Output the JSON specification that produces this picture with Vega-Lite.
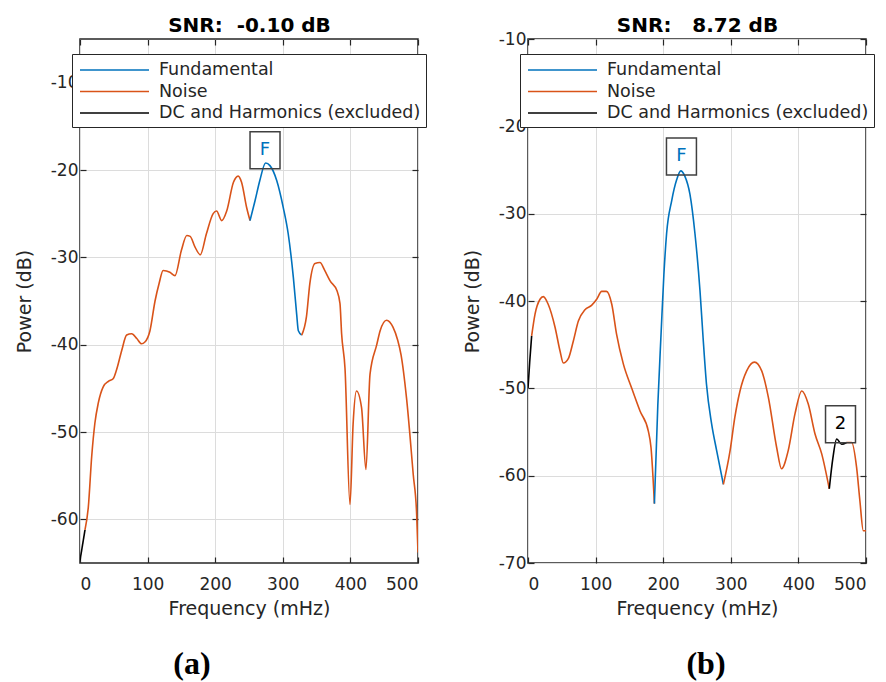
{
  "$schema": "https://vega.github.io/schema/vega-lite/v6.json",
  "padding": {"left": 14, "top": 14, "right": 0, "bottom": 0},
  "background": "white",
  "spacing": 110,
  "bounds": "flush",
  "resolve": {"scale": {"color": "independent"}, "legend": {"color": "independent"}},
  "config": {
    "view": {"stroke": "#262626", "strokeWidth": 1.5},
    "font": "DejaVu Sans",
    "axis": {
      "labelFont": "DejaVu Sans", "labelFontSize": 17, "labelColor": "#262626",
      "titleFont": "DejaVu Sans", "titleFontSize": 19, "titleFontWeight": "normal", "titleColor": "#262626",
      "domain": false, "tickColor": "#262626", "tickSize": -6, "tickWidth": 1.2,
      "grid": true, "gridColor": "#dcdcdc", "gridWidth": 1
    }
  },
  "datasets": {
    "a_curve": [
      {"f": 0, "p": -64.7, "series": "DC and Harmonics (excluded)", "seg": "d1"},
      {"f": 7.4, "p": -61.2, "series": "DC and Harmonics (excluded)", "seg": "d1"},
      {"f": 7.4, "p": -61.2, "series": "Noise", "seg": "n1"},
      {"f": 12.3, "p": -58.6, "series": "Noise", "seg": "n1"},
      {"f": 17.3, "p": -52.8, "series": "Noise", "seg": "n1"},
      {"f": 22, "p": -49.0, "series": "Noise", "seg": "n1"},
      {"f": 27, "p": -46.7, "series": "Noise", "seg": "n1"},
      {"f": 34.5, "p": -44.8, "series": "Noise", "seg": "n1"},
      {"f": 42, "p": -44.2, "series": "Noise", "seg": "n1"},
      {"f": 49, "p": -43.9, "series": "Noise", "seg": "n1"},
      {"f": 54, "p": -42.9, "series": "Noise", "seg": "n1"},
      {"f": 61.6, "p": -40.7, "series": "Noise", "seg": "n1"},
      {"f": 69, "p": -38.9, "series": "Noise", "seg": "n1"},
      {"f": 76.5, "p": -38.75, "series": "Noise", "seg": "n1"},
      {"f": 84, "p": -39.3, "series": "Noise", "seg": "n1"},
      {"f": 91, "p": -39.9, "series": "Noise", "seg": "n1"},
      {"f": 96, "p": -39.7, "series": "Noise", "seg": "n1"},
      {"f": 103.5, "p": -38.4, "series": "Noise", "seg": "n1"},
      {"f": 111, "p": -35.0, "series": "Noise", "seg": "n1"},
      {"f": 117, "p": -33.0, "series": "Noise", "seg": "n1"},
      {"f": 123, "p": -31.5, "series": "Noise", "seg": "n1"},
      {"f": 133, "p": -31.7, "series": "Noise", "seg": "n1"},
      {"f": 140.5, "p": -32.1, "series": "Noise", "seg": "n1"},
      {"f": 150, "p": -29.2, "series": "Noise", "seg": "n1"},
      {"f": 158, "p": -27.5, "series": "Noise", "seg": "n1"},
      {"f": 163, "p": -27.6, "series": "Noise", "seg": "n1"},
      {"f": 170, "p": -28.8, "series": "Noise", "seg": "n1"},
      {"f": 178, "p": -29.7, "series": "Noise", "seg": "n1"},
      {"f": 187, "p": -27.3, "series": "Noise", "seg": "n1"},
      {"f": 197, "p": -25.0, "series": "Noise", "seg": "n1"},
      {"f": 202, "p": -24.7, "series": "Noise", "seg": "n1"},
      {"f": 209.6, "p": -25.8, "series": "Noise", "seg": "n1"},
      {"f": 217, "p": -24.7, "series": "Noise", "seg": "n1"},
      {"f": 227, "p": -21.4, "series": "Noise", "seg": "n1"},
      {"f": 234, "p": -20.7, "series": "Noise", "seg": "n1"},
      {"f": 239, "p": -21.4, "series": "Noise", "seg": "n1"},
      {"f": 246.5, "p": -24.3, "series": "Noise", "seg": "n1"},
      {"f": 251.5, "p": -25.8, "series": "Noise", "seg": "n1"},
      {"f": 251.5, "p": -25.8, "series": "Fundamental", "seg": "f1"},
      {"f": 259, "p": -23.5, "series": "Fundamental", "seg": "f1"},
      {"f": 266, "p": -21.2, "series": "Fundamental", "seg": "f1"},
      {"f": 274.6, "p": -19.2, "series": "Fundamental", "seg": "f1"},
      {"f": 281, "p": -19.5, "series": "Fundamental", "seg": "f1"},
      {"f": 291, "p": -21.2, "series": "Fundamental", "seg": "f1"},
      {"f": 300.7, "p": -24.3, "series": "Fundamental", "seg": "f1"},
      {"f": 308, "p": -27.3, "series": "Fundamental", "seg": "f1"},
      {"f": 315.6, "p": -32.3, "series": "Fundamental", "seg": "f1"},
      {"f": 320.5, "p": -36.5, "series": "Fundamental", "seg": "f1"},
      {"f": 323, "p": -38.4, "series": "Fundamental", "seg": "f1"},
      {"f": 328, "p": -38.9, "series": "Fundamental", "seg": "f1"},
      {"f": 328, "p": -38.9, "series": "Noise", "seg": "n2"},
      {"f": 335, "p": -36.8, "series": "Noise", "seg": "n2"},
      {"f": 340, "p": -33.0, "series": "Noise", "seg": "n2"},
      {"f": 347.6, "p": -30.7, "series": "Noise", "seg": "n2"},
      {"f": 355, "p": -30.6, "series": "Noise", "seg": "n2"},
      {"f": 362, "p": -31.5, "series": "Noise", "seg": "n2"},
      {"f": 370, "p": -32.7, "series": "Noise", "seg": "n2"},
      {"f": 380, "p": -33.8, "series": "Noise", "seg": "n2"},
      {"f": 384.6, "p": -35.3, "series": "Noise", "seg": "n2"},
      {"f": 387, "p": -38.75, "series": "Noise", "seg": "n2"},
      {"f": 392, "p": -42.7, "series": "Noise", "seg": "n2"},
      {"f": 399.4, "p": -58.3, "series": "Noise", "seg": "n2"},
      {"f": 404, "p": -49.1, "series": "Noise", "seg": "n2"},
      {"f": 409, "p": -45.3, "series": "Noise", "seg": "n2"},
      {"f": 416.5, "p": -47.2, "series": "Noise", "seg": "n2"},
      {"f": 423, "p": -54.3, "series": "Noise", "seg": "n2"},
      {"f": 429, "p": -43.4, "series": "Noise", "seg": "n2"},
      {"f": 439, "p": -40.0, "series": "Noise", "seg": "n2"},
      {"f": 444, "p": -38.4, "series": "Noise", "seg": "n2"},
      {"f": 453.6, "p": -37.2, "series": "Noise", "seg": "n2"},
      {"f": 463, "p": -38.0, "series": "Noise", "seg": "n2"},
      {"f": 470, "p": -39.5, "series": "Noise", "seg": "n2"},
      {"f": 475, "p": -41.2, "series": "Noise", "seg": "n2"},
      {"f": 483, "p": -46.1, "series": "Noise", "seg": "n2"},
      {"f": 493, "p": -54.9, "series": "Noise", "seg": "n2"},
      {"f": 498, "p": -59.4, "series": "Noise", "seg": "n2"},
      {"f": 500, "p": -63.8, "series": "Noise", "seg": "n2"}
    ],
    "a_ann": [
      {"label": "F", "f": 273.7, "p": -17.74, "series": "Fundamental"}
    ],
    "b_curve": [
      {"f": 0, "p": -50.0, "series": "DC and Harmonics (excluded)", "seg": "d1"},
      {"f": 2.5, "p": -47.0, "series": "DC and Harmonics (excluded)", "seg": "d1"},
      {"f": 5.4, "p": -44.0, "series": "DC and Harmonics (excluded)", "seg": "d1"},
      {"f": 5.4, "p": -44.0, "series": "Noise", "seg": "n1"},
      {"f": 10.4, "p": -41.5, "series": "Noise", "seg": "n1"},
      {"f": 17.8, "p": -39.8, "series": "Noise", "seg": "n1"},
      {"f": 22.6, "p": -39.5, "series": "Noise", "seg": "n1"},
      {"f": 30, "p": -40.4, "series": "Noise", "seg": "n1"},
      {"f": 40, "p": -43.0, "series": "Noise", "seg": "n1"},
      {"f": 47.3, "p": -45.7, "series": "Noise", "seg": "n1"},
      {"f": 52.3, "p": -47.1, "series": "Noise", "seg": "n1"},
      {"f": 59.6, "p": -46.6, "series": "Noise", "seg": "n1"},
      {"f": 67, "p": -44.6, "series": "Noise", "seg": "n1"},
      {"f": 74.5, "p": -42.3, "series": "Noise", "seg": "n1"},
      {"f": 84.3, "p": -41.0, "series": "Noise", "seg": "n1"},
      {"f": 94, "p": -40.5, "series": "Noise", "seg": "n1"},
      {"f": 101.6, "p": -39.8, "series": "Noise", "seg": "n1"},
      {"f": 109, "p": -38.9, "series": "Noise", "seg": "n1"},
      {"f": 116, "p": -38.9, "series": "Noise", "seg": "n1"},
      {"f": 124, "p": -40.4, "series": "Noise", "seg": "n1"},
      {"f": 131, "p": -43.8, "series": "Noise", "seg": "n1"},
      {"f": 141, "p": -47.2, "series": "Noise", "seg": "n1"},
      {"f": 153, "p": -49.9, "series": "Noise", "seg": "n1"},
      {"f": 165.7, "p": -52.6, "series": "Noise", "seg": "n1"},
      {"f": 178, "p": -54.9, "series": "Noise", "seg": "n1"},
      {"f": 182, "p": -56.8, "series": "Noise", "seg": "n1"},
      {"f": 187, "p": -63.2, "series": "Noise", "seg": "n1"},
      {"f": 187, "p": -63.2, "series": "Fundamental", "seg": "f1"},
      {"f": 192, "p": -52.0, "series": "Fundamental", "seg": "f1"},
      {"f": 197, "p": -43.5, "series": "Fundamental", "seg": "f1"},
      {"f": 201, "p": -37.0, "series": "Fundamental", "seg": "f1"},
      {"f": 205, "p": -32.3, "series": "Fundamental", "seg": "f1"},
      {"f": 212.6, "p": -28.5, "series": "Fundamental", "seg": "f1"},
      {"f": 220, "p": -26.1, "series": "Fundamental", "seg": "f1"},
      {"f": 226, "p": -25.1, "series": "Fundamental", "seg": "f1"},
      {"f": 232, "p": -25.7, "series": "Fundamental", "seg": "f1"},
      {"f": 239.6, "p": -27.8, "series": "Fundamental", "seg": "f1"},
      {"f": 247, "p": -32.3, "series": "Fundamental", "seg": "f1"},
      {"f": 254.4, "p": -38.8, "series": "Fundamental", "seg": "f1"},
      {"f": 259, "p": -44.2, "series": "Fundamental", "seg": "f1"},
      {"f": 264, "p": -49.5, "series": "Fundamental", "seg": "f1"},
      {"f": 271.7, "p": -54.1, "series": "Fundamental", "seg": "f1"},
      {"f": 279, "p": -57.1, "series": "Fundamental", "seg": "f1"},
      {"f": 289, "p": -61.0, "series": "Fundamental", "seg": "f1"},
      {"f": 289, "p": -61.0, "series": "Noise", "seg": "n2"},
      {"f": 299, "p": -57.1, "series": "Noise", "seg": "n2"},
      {"f": 306, "p": -53.3, "series": "Noise", "seg": "n2"},
      {"f": 313.6, "p": -50.3, "series": "Noise", "seg": "n2"},
      {"f": 323.5, "p": -48.0, "series": "Noise", "seg": "n2"},
      {"f": 335, "p": -47.0, "series": "Noise", "seg": "n2"},
      {"f": 345.7, "p": -48.0, "series": "Noise", "seg": "n2"},
      {"f": 355.5, "p": -51.0, "series": "Noise", "seg": "n2"},
      {"f": 367.9, "p": -56.8, "series": "Noise", "seg": "n2"},
      {"f": 375, "p": -59.2, "series": "Noise", "seg": "n2"},
      {"f": 385, "p": -57.1, "series": "Noise", "seg": "n2"},
      {"f": 395, "p": -52.9, "series": "Noise", "seg": "n2"},
      {"f": 405, "p": -50.3, "series": "Noise", "seg": "n2"},
      {"f": 414.6, "p": -51.8, "series": "Noise", "seg": "n2"},
      {"f": 424.5, "p": -55.2, "series": "Noise", "seg": "n2"},
      {"f": 434.5, "p": -57.5, "series": "Noise", "seg": "n2"},
      {"f": 445.7, "p": -61.5, "series": "Noise", "seg": "n2"},
      {"f": 445.7, "p": -61.5, "series": "DC and Harmonics (excluded)", "seg": "d2"},
      {"f": 451, "p": -58.0, "series": "DC and Harmonics (excluded)", "seg": "d2"},
      {"f": 456.6, "p": -55.8, "series": "DC and Harmonics (excluded)", "seg": "d2"},
      {"f": 464, "p": -56.4, "series": "DC and Harmonics (excluded)", "seg": "d2"},
      {"f": 471.4, "p": -56.2, "series": "DC and Harmonics (excluded)", "seg": "d2"},
      {"f": 471.4, "p": -56.2, "series": "Noise", "seg": "n3"},
      {"f": 478.8, "p": -56.2, "series": "Noise", "seg": "n3"},
      {"f": 486, "p": -59.0, "series": "Noise", "seg": "n3"},
      {"f": 491, "p": -62.9, "series": "Noise", "seg": "n3"},
      {"f": 496, "p": -66.3, "series": "Noise", "seg": "n3"},
      {"f": 500, "p": -66.3, "series": "Noise", "seg": "n3"}
    ],
    "b_ann": [
      {"label": "F", "f": 227, "p": -23.44, "series": "Fundamental"},
      {"label": "2", "f": 462.3, "p": -54.1, "series": "DC and Harmonics (excluded)"}
    ]
  },
  "hconcat": [
    {
      "width": 338, "height": 524,
      "title": {"text": "(a)", "orient": "bottom", "frame": "group", "anchor": "middle", "dx": -57, "offset": 31, "font": "Liberation Serif", "fontSize": 32, "fontWeight": "bold", "color": "black"},
      "resolve": {"axis": {"x": "independent", "y": "independent"}},
      "layer": [
        {
          "data": {"name": "a_curve"},
          "mark": {"type": "line", "strokeWidth": 1.6, "interpolate": "monotone", "clip": true},
          "encoding": {
            "x": {"field": "f", "type": "quantitative", "scale": {"domain": [0, 500], "nice": false, "zero": false},
                  "axis": {"orient": "bottom", "values": [0, 100, 200, 300, 400, 500], "title": "Frequency (mHz)", "labelPadding": 19, "titlePadding": 7}},
            "y": {"field": "p", "type": "quantitative", "scale": {"domain": [-65, -5], "nice": false, "zero": false},
                  "axis": {"orient": "left", "values": [-60, -50, -40, -30, -20, -10], "title": "Power (dB)", "labelExpr": "datum.value + ''", "labelPadding": 8, "titlePadding": 16}},
            "color": {"field": "series", "type": "nominal",
                      "scale": {"domain": ["Fundamental", "Noise", "DC and Harmonics (excluded)"], "range": ["#0072BD", "#D95319", "#000000"]},
                      "legend": {"orient": "none", "legendX": -8, "legendY": 15, "title": null,
                                 "symbolType": "M-0.8,0H6.1", "symbolSize": 400, "symbolStrokeWidth": 1.5,
                                 "labelFontSize": 17.5, "labelFont": "DejaVu Sans", "labelColor": "#262626", "labelLimit": 0,
                                 "strokeColor": "#262626", "fillColor": "white",
                                 "padding": 5, "labelOffset": 60, "rowPadding": 1.5, "direction": "vertical"}},
            "detail": {"field": "seg"}
          }
        },
        {
          "data": {"name": "a_ann"},
          "mark": {"type": "point", "shape": "M-0.81,-1H0.81V1H-0.81Z", "filled": false, "stroke": "#404040", "strokeWidth": 1.5, "size": 1369, "opacity": 1},
          "encoding": {
            "x": {"field": "f", "type": "quantitative", "scale": {"domain": [0, 500], "nice": false, "zero": false},
                  "axis": {"orient": "top", "values": [0, 100, 200, 300, 400, 500], "labels": false, "grid": false, "title": "SNR:\u00a0 -0.10 dB", "titleFontWeight": "bold", "titleFontSize": 20, "titleColor": "black", "titlePadding": 3}},
            "y": {"field": "p", "type": "quantitative", "scale": {"domain": [-65, -5], "nice": false, "zero": false},
                  "axis": {"orient": "right", "values": [-60, -50, -40, -30, -20, -10], "labels": false, "grid": false, "title": null}}
          }
        },
        {
          "data": {"name": "a_ann"},
          "mark": {"type": "text", "fontSize": 18, "font": "DejaVu Sans", "align": "center", "baseline": "middle"},
          "encoding": {
            "x": {"field": "f", "type": "quantitative", "axis": null},
            "y": {"field": "p", "type": "quantitative", "axis": null},
            "text": {"field": "label"},
            "color": {"field": "series", "type": "nominal"}
          }
        }
      ]
    },
    {
      "width": 338, "height": 524,
      "title": {"text": "(b)", "orient": "bottom", "frame": "group", "anchor": "middle", "dx": 9, "offset": 31, "font": "Liberation Serif", "fontSize": 32, "fontWeight": "bold", "color": "black"},
      "resolve": {"axis": {"x": "independent", "y": "independent"}},
      "layer": [
        {
          "data": {"name": "b_curve"},
          "mark": {"type": "line", "strokeWidth": 1.6, "interpolate": "monotone", "clip": true},
          "encoding": {
            "x": {"field": "f", "type": "quantitative", "scale": {"domain": [0, 500], "nice": false, "zero": false},
                  "axis": {"orient": "bottom", "values": [0, 100, 200, 300, 400, 500], "title": "Frequency (mHz)", "labelPadding": 19, "titlePadding": 7}},
            "y": {"field": "p", "type": "quantitative", "scale": {"domain": [-70, -10], "nice": false, "zero": false},
                  "axis": {"orient": "left", "values": [-70, -60, -50, -40, -30, -20, -10], "title": "Power (dB)", "labelExpr": "datum.value + ''", "labelPadding": 8, "titlePadding": 16}},
            "color": {"field": "series", "type": "nominal",
                      "scale": {"domain": ["Fundamental", "Noise", "DC and Harmonics (excluded)"], "range": ["#0072BD", "#D95319", "#000000"]},
                      "legend": {"orient": "none", "legendX": -8, "legendY": 15, "title": null,
                                 "symbolType": "M-0.8,0H6.1", "symbolSize": 400, "symbolStrokeWidth": 1.5,
                                 "labelFontSize": 17.5, "labelFont": "DejaVu Sans", "labelColor": "#262626", "labelLimit": 0,
                                 "strokeColor": "#262626", "fillColor": "white",
                                 "padding": 5, "labelOffset": 60, "rowPadding": 1.5, "direction": "vertical"}},
            "detail": {"field": "seg"}
          }
        },
        {
          "data": {"name": "b_ann"},
          "mark": {"type": "point", "shape": "M-0.81,-1H0.81V1H-0.81Z", "filled": false, "stroke": "#404040", "strokeWidth": 1.5, "size": 1369, "opacity": 1},
          "encoding": {
            "x": {"field": "f", "type": "quantitative", "scale": {"domain": [0, 500], "nice": false, "zero": false},
                  "axis": {"orient": "top", "values": [0, 100, 200, 300, 400, 500], "labels": false, "grid": false, "title": "SNR:\u00a0\u00a0 8.72 dB", "titleFontWeight": "bold", "titleFontSize": 20, "titleColor": "black", "titlePadding": 3}},
            "y": {"field": "p", "type": "quantitative", "scale": {"domain": [-70, -10], "nice": false, "zero": false},
                  "axis": {"orient": "right", "values": [-70, -60, -50, -40, -30, -20, -10], "labels": false, "grid": false, "title": null}}
          }
        },
        {
          "data": {"name": "b_ann"},
          "mark": {"type": "text", "fontSize": 18, "font": "DejaVu Sans", "align": "center", "baseline": "middle"},
          "encoding": {
            "x": {"field": "f", "type": "quantitative", "axis": null},
            "y": {"field": "p", "type": "quantitative", "axis": null},
            "text": {"field": "label"},
            "color": {"field": "series", "type": "nominal"}
          }
        }
      ]
    }
  ]
}
